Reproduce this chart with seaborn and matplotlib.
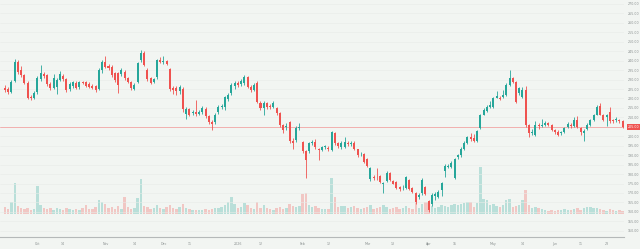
import numpy as np
import pandas as pd
import matplotlib
matplotlib.use('Agg')
import matplotlib.pyplot as plt
import matplotlib.transforms as mtransforms
import seaborn as sns

# daily OHLC (one value per candle)
opens = [
    225.5, 225, 223.5, 229, 239.5, 235, 232.5, 228, 221, 220.2,
    223.5, 230.5, 233, 232.5, 227.8, 225.6, 226, 230, 232, 230.5,
    225, 226.5, 228.2, 226, 228.5, 228.8, 227.6, 226.5, 226.5, 225,
    235, 239.5, 237.2, 236.6, 233.5, 233.5, 232.9, 234, 231, 228.5,
    225, 228.8, 240.4, 244, 235.1, 230.8, 228.8, 231.4, 240.4, 239.3,
    239.8, 235.5, 225.5, 225.5, 224, 225, 212, 214.5, 212.5, 213,
    212, 212.9, 214.5, 210.5, 207.5, 207.5, 213, 215.5, 215.5, 219.5,
    223, 226.5, 228, 227.5, 228, 231.3, 226, 224.5, 228, 217.5,
    215, 217.5, 216, 215.5, 215, 212.5, 206, 205, 207.5, 197.5,
    198, 204.5, 197, 192, 192, 196.5, 197, 193.5, 192.7, 194.5,
    194, 192.5, 201.5, 196.5, 194.5, 194.5, 196.5, 196, 196.5, 193,
    190.5, 190.5, 188, 177.5, 178.5, 178.5, 179, 174.5, 176.5, 180.5,
    176.5, 176, 173, 172.5, 172.5, 177, 172.5, 170, 168, 170,
    173, 166, 164, 168.5, 168, 171.5, 181.6, 184, 184, 178,
    189, 190, 193.5, 196.5, 199.5, 199, 197.5, 204.5, 211.5, 213.5,
    215.5, 215.5, 220.5, 220.5, 221, 222, 227, 231, 228.8, 223,
    220.8, 224.5, 206, 201.5, 200.5, 206, 205.5, 206, 207, 206,
    203.5, 202.5, 201.5, 202, 205, 206, 205.5, 208.5, 204.5, 201.5,
    204, 206, 208.5, 211.5, 216, 211.5, 210, 213, 208.5, 208.5,
    208.5, 208,
]
closes = [
    224.5, 223.5, 228.8, 239.5, 234, 232.5, 228, 220.5, 220, 223,
    231, 233.5, 232, 227.8, 225.6, 230.8, 230, 233, 230.5, 224.5,
    227.6, 228.8, 225.5, 228.8, 228.2, 226.6, 226, 225.5, 224.5, 235,
    239.5, 236.6, 236, 232.5, 229.8, 227.1, 235, 231, 228.8, 225.5,
    227.1, 238.8, 244, 237.7, 230.3, 228.2, 230.3, 240.4, 239.3, 240,
    238.2, 225, 224.5, 224, 226, 214.5, 214.5, 211.5, 212.9, 212,
    212.8, 215, 210.5, 207.5, 206.5, 211.5, 215.5, 215.8, 220.8, 222,
    227, 228, 227, 229.5, 231.3, 226, 224.5, 227, 218.2, 215,
    217.5, 215.5, 215.5, 217.5, 212.5, 206, 203.5, 205.5, 197.5, 196.5,
    204.5, 204.8, 192, 187.5, 196.5, 196.8, 194.5, 192.7, 194.5, 194.8,
    193, 202, 196.5, 195, 196.5, 197, 196, 196.3, 193, 190,
    190.8, 186.5, 184.5, 183, 178, 178.2, 176, 175.5, 180.5, 177,
    175, 172.5, 172, 172.8, 178.5, 172, 170.5, 165, 169, 177,
    169.5, 161, 169, 169.5, 170.5, 175.5, 184.2, 184.5, 186, 188,
    190, 193.5, 196.5, 199.5, 198.5, 197.5, 203, 211, 214, 215.5,
    216.5, 220.5, 221.5, 219.5, 222, 227, 231, 228.8, 218.2, 225.5,
    224.5, 206, 201.5, 202, 206, 205.5, 206, 207, 206, 203.5,
    202, 200.8, 202, 204.5, 206.5, 205.5, 208.5, 205, 202, 203,
    206, 208.5, 211.5, 215.5, 211.5, 208.5, 211.5, 208, 208, 209,
    208, 205,
]
highs = [
    227, 226, 230, 241, 240.5, 237, 233, 229, 222, 224,
    232, 237.5, 234, 233, 228.5, 233, 231, 234.5, 233, 231,
    228.5, 229.5, 229, 229.5, 229.5, 229.5, 228.5, 227.5, 227, 236,
    240.5, 242.5, 238, 237.5, 234, 234, 236, 235, 231.5, 229,
    228, 239.5, 245.5, 245, 236, 231.5, 231, 241, 242, 242.5,
    240.5, 236, 226.5, 226.5, 227, 226, 215.5, 215, 214, 219,
    214, 216, 215.5, 211, 208.5, 212.5, 216.5, 217, 221.5, 223,
    228, 229, 229.5, 230.5, 232.5, 232, 227, 228, 229, 218.5,
    218.5, 218, 217, 218.5, 215.5, 213, 206.5, 207, 208, 199,
    205.5, 207, 197.5, 192.5, 197, 198, 198.5, 194, 195, 195.5,
    195, 203, 202.5, 197, 197.5, 199.5, 197.5, 197.5, 197.5, 193.5,
    191.5, 191, 188.5, 184, 179.5, 183, 179.5, 176, 181.5, 181,
    177, 176.5, 173.5, 174, 179, 177.5, 173, 170.5, 170, 178,
    173.5, 166.5, 170, 170.5, 171.5, 176, 185.5, 185.5, 187, 188.5,
    190.5, 194.5, 197.5, 200, 201.5, 201, 203.5, 212, 215, 216.5,
    218.5, 221, 224, 221.5, 224.5, 228, 235, 231.5, 229.5, 226,
    226, 226.5, 206.5, 204, 208, 207, 209, 208, 207.5, 206.5,
    204, 203.5, 203, 205, 207.5, 207, 210, 210.5, 205, 204,
    207, 209, 212, 216.5, 217.5, 212, 212, 215.5, 209, 210,
    209, 208.5,
]
lows = [
    223.5, 222.5, 223, 228.5, 233, 231.5, 227.5, 219.5, 219, 219.5,
    222.5, 229.5, 231, 226.5, 224.5, 224.8, 222.5, 229.5, 229.5, 223.5,
    224, 225.5, 224.8, 225, 227.5, 226, 225.5, 225, 223.5, 224.5,
    233.5, 236, 235, 231.5, 228.5, 222.9, 232, 230, 228, 224.5,
    224.5, 228, 239.5, 237, 229.5, 227.5, 228, 230.5, 239, 238.5,
    237.5, 224, 222.5, 222, 222.5, 213, 209, 210.5, 211.5, 210.5,
    211, 212, 209.5, 206.5, 203.5, 206.5, 212, 214.5, 214, 218.5,
    222, 225, 226, 226.5, 227, 225.5, 223.5, 224, 217.5, 214,
    211.3, 214.5, 214.5, 215, 211.5, 205, 201.5, 203.5, 196.5, 193,
    197, 203.5, 191, 178, 191, 195.5, 193.5, 187.5, 192, 193.5,
    192, 192, 195.5, 194, 193.5, 194, 195, 195, 192.5, 189,
    189.5, 186, 183.5, 176.5, 177, 177, 175.5, 170, 176, 176.5,
    174.5, 172, 171, 171.5, 172, 171.5, 170, 164, 167, 169,
    169, 160, 163, 166.5, 167.5, 168.5, 178.5, 183, 183, 177.5,
    188, 189, 192.5, 196, 197.5, 197, 197, 204, 211, 213,
    215, 215, 220, 219, 220.5, 221.5, 226.5, 228, 217.5, 222,
    220, 205, 199.5, 200.5, 200, 204, 205, 205.5, 205.5, 203,
    201, 200, 200.5, 201.5, 204.5, 204.5, 205, 204.5, 200.5, 197.5,
    203.5, 205.5, 208, 211, 211, 208, 205.5, 207, 207, 207.5,
    207, 204.5,
]
# volume, millions
volumes = [
    0.7, 0.5, 1.2, 3.1, 0.8, 0.6, 0.5, 0.6, 0.4, 0.5,
    2.8, 0.9, 0.6, 0.5, 0.6, 0.4, 0.6, 0.5, 0.4, 0.6,
    0.5, 0.4, 0.5, 0.4, 0.6, 0.9, 0.5, 0.5, 0.7, 1.4,
    1.2, 1.0, 0.6, 0.7, 0.5, 0.8, 0.5, 1.7, 0.7, 0.5,
    0.6, 1.6, 3.5, 0.8, 0.7, 0.5, 0.6, 0.9, 0.6, 0.5,
    0.7, 0.9, 0.6, 0.5, 0.7, 1.0, 0.6, 0.5, 0.4, 0.4,
    0.4, 0.4, 0.5, 0.4, 0.5, 0.6, 0.6, 0.7, 0.9, 1.2,
    1.7, 1.0, 0.6, 0.7, 1.1, 0.9, 0.6, 0.5, 1.2, 0.6,
    0.9, 0.6, 0.5, 0.4, 0.6, 0.7, 0.5, 0.6, 1.0, 0.8,
    0.7, 0.8, 2.0, 2.1, 0.9, 0.7, 0.8, 0.6, 0.5, 0.5,
    0.5, 3.6, 1.7, 0.7, 0.8, 0.8, 0.6, 0.7, 0.8, 0.6,
    0.5, 0.6, 0.7, 0.9, 0.5, 0.6, 0.7, 0.9, 0.7, 0.5,
    0.6, 0.7, 0.5, 0.6, 0.8, 0.6, 0.5, 1.2, 0.6, 1.0,
    1.2, 1.2, 0.8, 0.6, 0.7, 0.9, 0.8, 0.7, 0.9, 1.0,
    0.9, 1.0, 1.1, 1.2, 1.2, 0.7, 1.1, 4.7, 1.5, 1.4,
    0.9, 1.0, 0.8, 0.7, 0.9, 1.4, 1.5, 0.7, 0.8, 0.9,
    1.4, 2.4, 0.9, 0.6, 0.7, 0.6, 0.5, 0.4, 0.3, 0.4,
    0.3, 0.4, 0.4, 0.5, 0.4, 0.4, 0.5, 0.6, 0.4, 0.6,
    0.7, 0.7, 0.6, 0.6, 0.5, 0.4, 0.3, 0.5, 0.4, 0.3,
    0.4, 0.3,
]
tick_labels = ['Oct', '14', 'Nov', '14', 'Dec', '11', '2026', '12', 'Feb', '12',
               'Mar', '13', 'Apr', '15', 'May', '14', 'Jun', '11', '23']
tick_idx = [10, 18, 31, 40, 49, 57, 72, 79, 92, 100,
            112, 120, 131, 139, 151, 160, 170, 178, 186]
price_ticks = list(range(150, 271, 5))

up_col = '#26a69a'
down_col = '#ef5350'
bg = '#f2f5f2'
txt_col = '#8a9090'

df = pd.DataFrame({'open': opens, 'high': highs, 'low': lows,
                   'close': closes, 'volume': volumes})
df['idx'] = np.arange(len(df))
df['dir'] = np.where(df['close'] >= df['open'], 'up', 'down')

sns.set_theme(style='white')
plt.rcParams['font.family'] = ['DejaVu Sans']

fig = plt.figure(figsize=(6.4, 2.49), dpi=100, facecolor=bg)
ax_vol = fig.add_axes([0, 12 / 249, 624 / 640, 237 / 249])
ax_vol.set_facecolor(bg)

# volume histogram underneath
sns.barplot(data=df, x='idx', y='volume', hue='dir', native_scale=True,
            palette={'up': up_col, 'down': down_col}, dodge=False,
            saturation=1, alpha=0.28, width=0.75, errorbar=None,
            legend=False, linewidth=0, ax=ax_vol)
ax_vol.set_ylim(-2.3, 21.4)
ax_vol.set_yticks([])
ax_vol.set_ylabel('')
ax_vol.set_xlabel('')

# candles on the price axis
ax = ax_vol.twinx()
colors = np.where(df['dir'] == 'up', up_col, down_col)
ax.vlines(df['idx'], df['low'], df['high'], colors=colors, lw=0.6, zorder=2)
body_lo = np.minimum(df['open'], df['close'])
body_h = np.maximum(np.abs(df['close'] - df['open']), 0.3)
ax.bar(df['idx'], body_h, bottom=body_lo, width=0.62, color=colors,
       linewidth=0, zorder=3)

last = closes[-1]
ax.axhline(last, color='#f2a5a5', lw=0.6, zorder=1)
ax.grid(axis='y', color='#e8ece8', lw=0.4)
ax.set_axisbelow(True)

ax.set_ylim(146.7, 272.1)
ax.set_yticks(price_ticks)
ax.set_yticklabels([f'{v:.2f}' for v in price_ticks])
ax.tick_params(axis='y', length=0, pad=2.5, labelsize=2.3, colors=txt_col)

ax_vol.set_xlim(-1.55, 191.4)
ax_vol.set_xticks(tick_idx)
ax_vol.set_xticklabels(tick_labels)
ax_vol.tick_params(axis='x', length=0, pad=3.5, labelsize=2.3, colors=txt_col)

for a in (ax, ax_vol):
    for s in ('top', 'left', 'right'):
        a.spines[s].set_visible(False)
ax.spines['bottom'].set_visible(False)
ax_vol.spines['bottom'].set_color('#b5b9b9')
ax_vol.spines['bottom'].set_linewidth(0.8)

# last price tag on the right scale
trans = mtransforms.blended_transform_factory(ax.transAxes, ax.transData)
ax.text(1.006, last, f'{last:.2f}', transform=trans, ha='left', va='center',
        fontsize=2.3, color='white', clip_on=False, zorder=5,
        bbox=dict(boxstyle='square,pad=0.35', fc=down_col, ec='none'))

fig.savefig('out.png', dpi=100, facecolor=bg)
plt.close(fig)
